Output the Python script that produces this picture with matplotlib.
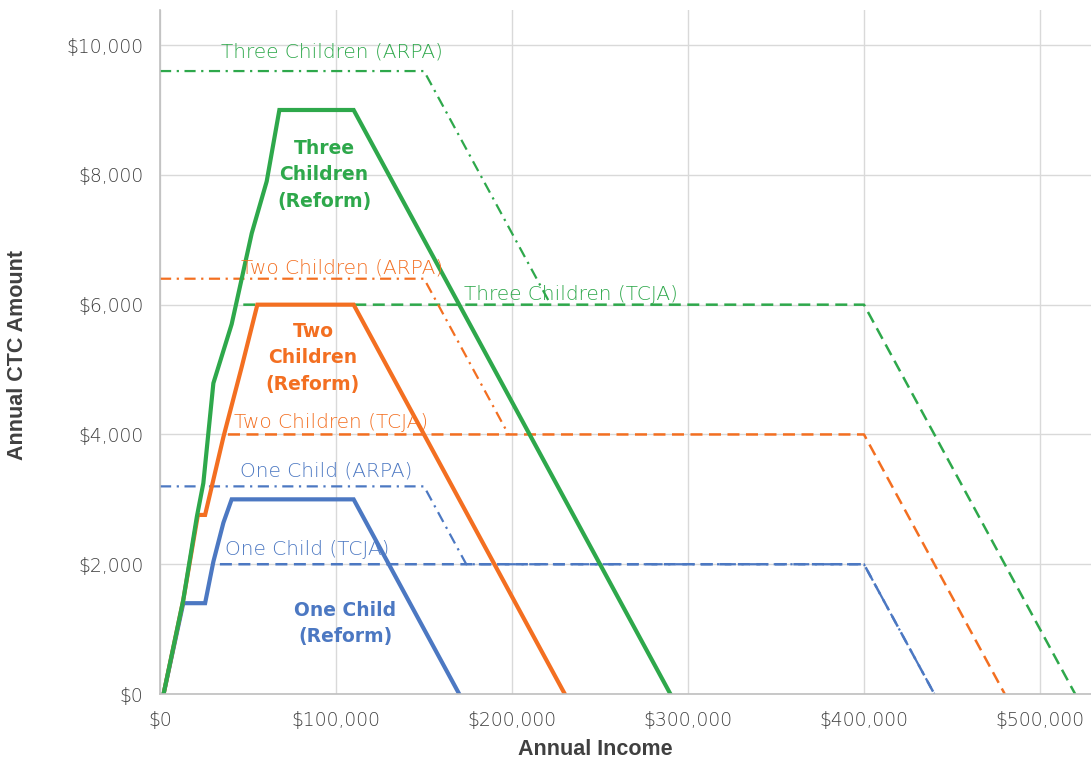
import numpy as np
import matplotlib.pyplot as plt
from matplotlib.ticker import FuncFormatter

# colours
green = '#2EA84B'
orange = '#F36F21'
blue = '#4C78C2'

# Reform (solid) - income, credit
reform3_x = [2000, 13200, 20900, 24600, 30300, 40700, 46400, 52100, 60600, 67800, 110000, 290000]
reform3_y = [0, 1450, 2730, 3250, 4790, 5700, 6400, 7100, 7900, 9000, 9000, 0]
reform2_x = [2000, 13200, 21500, 25600, 36000, 46400, 55300, 110000, 230000]
reform2_y = [0, 1450, 2760, 2760, 3960, 5040, 6000, 6000, 0]
reform1_x = [2000, 13200, 25600, 30300, 36000, 40700, 110000, 170000]
reform1_y = [0, 1400, 1400, 2040, 2640, 3000, 3000, 0]

# TCJA (dashed)
tcja3_x = [47300, 400000, 520000]
tcja3_y = [6000, 6000, 0]
tcja2_x = [38600, 400000, 480000]
tcja2_y = [4000, 4000, 0]
tcja1_x = [34000, 400000, 440000]
tcja1_y = [2000, 2000, 0]

# ARPA (dash-dot)
arpa3_x = [0, 150000, 222000]
arpa3_y = [9600, 9600, 6000]
arpa2_x = [0, 150000, 198000]
arpa2_y = [6400, 6400, 4000]
arpa1_x = [0, 150000, 174000, 400000, 440000]
arpa1_y = [3200, 3200, 2000, 2000, 0]

x_ticks = [0, 100000, 200000, 300000, 400000, 500000]
y_ticks = [0, 2000, 4000, 6000, 8000, 10000]

fig = plt.figure(figsize=(10.91, 7.62), dpi=100)
ax = fig.add_axes([0.1467, 0.0892, 0.8533, 0.8976])

# TCJA
ax.plot(tcja1_x, tcja1_y, color=blue, lw=1.8, dashes=(4.8, 2.6))
ax.plot(tcja2_x, tcja2_y, color=orange, lw=1.8, dashes=(4.8, 2.6))
ax.plot(tcja3_x, tcja3_y, color=green, lw=1.8, dashes=(4.8, 2.6))

# ARPA
dd = (5, 2.5, 1, 2.5)
ax.plot(arpa1_x, arpa1_y, color=blue, lw=1.6, dashes=dd)
ax.plot(arpa2_x, arpa2_y, color=orange, lw=1.6, dashes=dd)
ax.plot(arpa3_x, arpa3_y, color=green, lw=1.6, dashes=dd)

# Reform
ax.plot(reform1_x, reform1_y, color=blue, lw=3, solid_joinstyle='miter')
ax.plot(reform2_x, reform2_y, color=orange, lw=3, solid_joinstyle='miter')
ax.plot(reform3_x, reform3_y, color=green, lw=3, solid_joinstyle='miter')

# labels
lab_fs = 14.5
lab_kw = dict(fontsize=lab_fs, ha='center', va='center', fontweight='light')
ax.text(97700, 9890, 'Three Children (ARPA)', color=green, **lab_kw)
ax.text(103400, 6560, 'Two Children (ARPA)', color=orange, **lab_kw)
ax.text(233500, 6150, 'Three Children (TCJA)', color=green, **lab_kw)
ax.text(97200, 4190, 'Two Children (TCJA)', color=orange, **lab_kw)
ax.text(94300, 3440, 'One Child (ARPA)', color=blue, **lab_kw)
ax.text(83500, 2220, 'One Child (TCJA)', color=blue, **lab_kw)

bold_kw = dict(fontsize=13.5, fontweight='bold', ha='center', va='center', linespacing=1.5)
ax.text(93200, 8000, 'Three\nChildren\n(Reform)', color=green, **bold_kw)
ax.text(86900, 5180, 'Two\nChildren\n(Reform)', color=orange, **bold_kw)
ax.text(105100, 1090, 'One Child\n(Reform)', color=blue, **bold_kw)

ax.set_xlim(0, 529000)
ax.set_ylim(0, 10540)
ax.set_xticks(x_ticks)
ax.set_yticks(y_ticks)
ax.xaxis.set_major_formatter(FuncFormatter(lambda v, p: f'${v:,.0f}'))
ax.yaxis.set_major_formatter(FuncFormatter(lambda v, p: f'${v:,.0f}'))
ax.tick_params(length=0, labelsize=13.5, labelcolor='#3F3F3F', pad=12)
for t in ax.get_xticklabels() + ax.get_yticklabels():
    t.set_fontweight('light')
ax.grid(True, color='#D9D9D9', lw=1)
ax.set_axisbelow(True)
for s in ['top', 'right']:
    ax.spines[s].set_visible(False)
for s in ['left', 'bottom']:
    ax.spines[s].set_color('#BFBFBF')
    ax.spines[s].set_linewidth(1.2)

ax.set_xlabel('Annual Income', fontsize=15.5, fontweight='bold', color='#404040',
              family=['Liberation Sans', 'DejaVu Sans'])
ax.set_ylabel('Annual CTC Amount', fontsize=15.5, fontweight='bold', color='#404040',
              family=['Liberation Sans', 'DejaVu Sans'])
ax.xaxis.set_label_coords(0.468, -0.066)
ax.yaxis.set_label_coords(-0.142, 0.495)

fig.savefig('out.png', dpi=100)
